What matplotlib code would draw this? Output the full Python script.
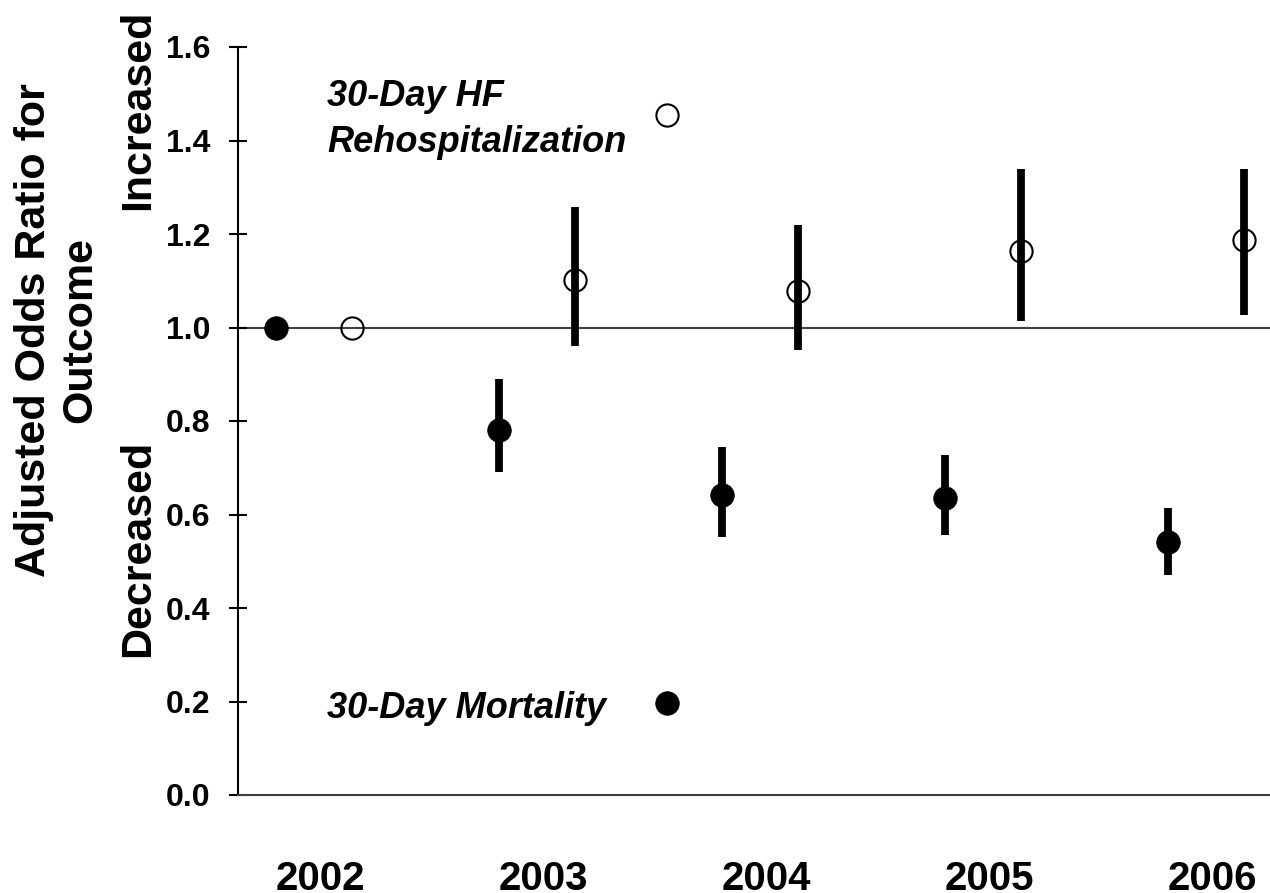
import numpy as np
import matplotlib
matplotlib.use('Agg')
import matplotlib.pyplot as plt

plt.rcParams['font.family'] = ['Liberation Sans', 'DejaVu Sans']

years = ['2002', '2003', '2004', '2005', '2006']

# 30-day mortality (filled)
mort_or = [1.0, 0.78, 0.642, 0.635, 0.541]
mort_lo = [np.nan, 0.69, 0.552, 0.556, 0.471]
mort_hi = [np.nan, 0.89, 0.744, 0.727, 0.613]

# 30-day HF rehospitalization (open)
rehosp_or = [1.0, 1.101, 1.078, 1.164, 1.187]
rehosp_lo = [np.nan, 0.961, 0.952, 1.013, 1.027]
rehosp_hi = [np.nan, 1.258, 1.219, 1.338, 1.338]

yticks = [0.0, 0.2, 0.4, 0.6, 0.8, 1.0, 1.2, 1.4, 1.6]

fig = plt.figure(figsize=(12.7, 8.93), dpi=100)
ax = fig.add_axes([238 / 1270, 1 - 795 / 893, 1 - 238 / 1270, (795 - 47) / 893])

x = np.arange(len(years))
x_m = x
x_r = x + 0.34

ax.axhline(1.0, color='#404040', lw=1.5, zorder=1)

# markers
ax.plot(x_r, rehosp_or, 'o', ms=16, mfc='none', mec='black', mew=1.5, zorder=2, clip_on=False)
ax.plot(x_m, mort_or, 'o', ms=17, mfc='black', mec='black', mew=0.5, zorder=4, clip_on=False)

# confidence intervals
for xs, lo, hi in [(x_m, mort_lo, mort_hi), (x_r, rehosp_lo, rehosp_hi)]:
    lo = np.array(lo)
    hi = np.array(hi)
    ok = ~np.isnan(lo)
    ax.vlines(xs[ok], lo[ok], hi[ok], colors='black', lw=5.6, zorder=3)

# key markers + labels
key_x = 1.753
ax.plot([key_x], [1.455], 'o', ms=16, mfc='none', mec='black', mew=1.5)
ax.plot([key_x], [0.197], 'o', ms=17, mfc='black', mec='black', mew=0.5)
ax.text(0.229, 1.445, '30-Day HF\nRehospitalization', fontsize=26, fontweight='bold',
        fontstyle='italic', ha='left', va='center', linespacing=1.4)
ax.text(0.229, 0.186, '30-Day Mortality', fontsize=26, fontweight='bold',
        fontstyle='italic', ha='left', va='center')

ax.set_xlim(-0.170, 4.457)
ax.set_ylim(0, 1.6)

ax.set_yticks(yticks)
ax.set_yticklabels(['%.1f' % v for v in yticks], fontsize=23, fontweight='bold')
ax.tick_params(axis='y', direction='inout', length=13, width=1.5, pad=13.5)

ax.set_xticks(x + 0.2)
ax.set_xticklabels(years, fontsize=29, fontweight='bold')
ax.tick_params(axis='x', length=0, pad=47)

for s in ['top', 'right']:
    ax.spines[s].set_visible(False)
ax.spines['left'].set_linewidth(1.5)
ax.spines['bottom'].set_linewidth(1.5)
ax.spines['bottom'].set_color('#404040')

fig.text(57 / 1270, 1 - 330 / 893, 'Adjusted Odds Ratio for\nOutcome', rotation=90,
         fontsize=31, fontweight='bold', ha='center', va='center', multialignment='center')
fig.text(138 / 1270, 1 - 110 / 893, 'Increased', rotation=90,
         fontsize=31, fontweight='bold', ha='center', va='center')
fig.text(138 / 1270, 1 - 548 / 893, 'Decreased', rotation=90,
         fontsize=31, fontweight='bold', ha='center', va='center')

fig.savefig('out.png', dpi=100)
